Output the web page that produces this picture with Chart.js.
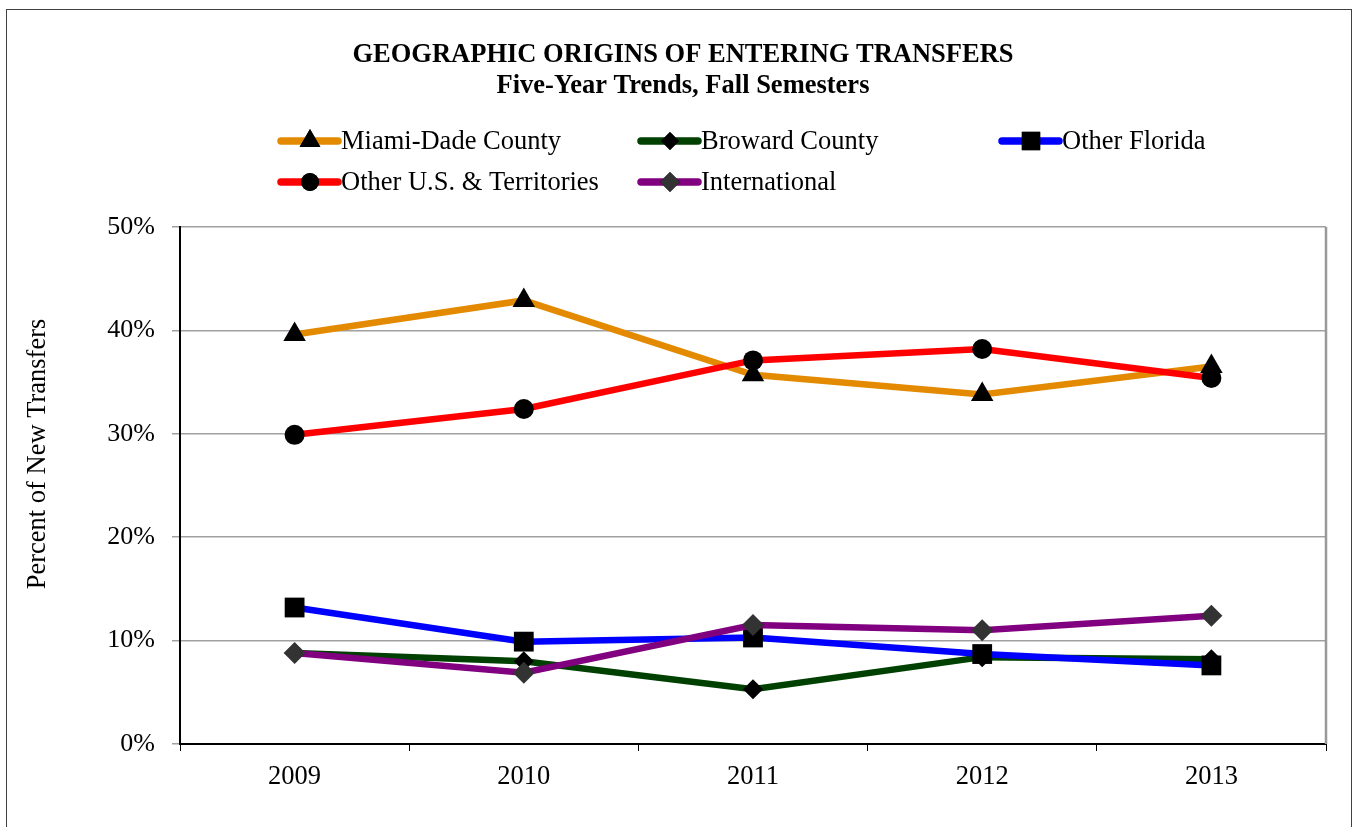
<!DOCTYPE html>
<html>
<head>
<meta charset="utf-8">
<script src="https://cdn.jsdelivr.net/npm/chart.js@4.4.1/dist/chart.umd.min.js"></script>
<style>
  html, body { margin: 0; padding: 0; background: #ffffff; }
  #wrap { width: 1355px; height: 827px; position: relative; }
</style>
</head>
<body>
<div id="wrap"><canvas id="chart" width="1355" height="827"></canvas></div>
<script>
const years = ["2009", "2010", "2011", "2012", "2013"];
const miamiDade = [39.6, 42.9, 35.7, 33.8, 36.5];
const broward = [8.8, 8.0, 5.3, 8.4, 8.2];
const otherFlorida = [13.2, 9.9, 10.3, 8.7, 7.6];
const otherUS = [29.9, 32.4, 37.1, 38.2, 35.4];
const international = [8.8, 6.9, 11.5, 11.0, 12.4];
const yTicks = [0, 10, 20, 30, 40, 50];

const serif = '"Liberation Serif", "Times New Roman", serif';

const series = [
  { label: "Miami-Dade County", data: miamiDade, color: "#E38A00", point: "triangle", radius: 13, pointColor: "#000000", order: 5 },
  { label: "Broward County", data: broward, color: "#004000", point: "rectRot", radius: 10, pointColor: "#000000", order: 4 },
  { label: "Other Florida", data: otherFlorida, color: "#0000FF", point: "rect", radius: 14, pointColor: "#000000", order: 3 },
  { label: "Other U.S. & Territories", data: otherUS, color: "#FF0000", point: "circle", radius: 10, pointColor: "#000000", order: 2 },
  { label: "International", data: international, color: "#800080", point: "rectRot", radius: 11, pointColor: "#333333", order: 1 },
];

// legend slots (column x, row y) like the original 3-column layout
const legendCols = [281, 641, 1002];
const legendRows = [141, 182];

const framePlugin = {
  id: "frameAndLegend",
  beforeDraw: (chart) => {
    const { ctx } = chart;
    ctx.save();
    ctx.fillStyle = "#ffffff";
    ctx.fillRect(0, 0, chart.width, chart.height);
    ctx.strokeStyle = "#404040";
    ctx.lineWidth = 1;
    ctx.strokeRect(6.5, 9.5, 1345, 830);

    // title
    ctx.fillStyle = "#000000";
    ctx.textAlign = "center";
    ctx.textBaseline = "middle";
    ctx.font = "bold 26.5px " + serif;
    ctx.fillText("GEOGRAPHIC ORIGINS OF ENTERING TRANSFERS", 683, 55);
    ctx.fillText("Five-Year Trends, Fall Semesters", 683, 86);

    // y axis title (sits a bit above the middle of the axis in the original)
    ctx.translate(38, 454);
    ctx.rotate(-Math.PI / 2);
    ctx.font = "26.5px " + serif;
    ctx.fillText("Percent of New Transfers", 0, 0);
    ctx.restore();
  },
  afterDatasetsDraw: (chart) => {
    const { ctx, chartArea } = chart;
    ctx.save();
    ctx.strokeStyle = "#999999";
    ctx.lineWidth = 2.5;
    ctx.beginPath();
    ctx.moveTo(chartArea.right, chartArea.top);
    ctx.lineTo(chartArea.right, chartArea.bottom);
    ctx.stroke();
    ctx.restore();
  },
  afterDraw: (chart) => {
    const { ctx } = chart;
    ctx.save();
    chart.data.datasets.forEach((ds, i) => {
      const x = legendCols[i % 3];
      const y = legendRows[Math.floor(i / 3)];
      ctx.strokeStyle = ds.borderColor;
      ctx.lineWidth = 7.5;
      ctx.lineCap = "round";
      ctx.beginPath();
      ctx.moveTo(x, y);
      ctx.lineTo(x + 57, y);
      ctx.stroke();
      Chart.helpers.drawPoint(ctx, {
        pointStyle: ds.pointStyle,
        radius: ds.pointRadius - 1,
        rotation: 0,
        borderWidth: 0,
      }, x + 29, y);
      ctx.fillStyle = ds.pointBackgroundColor;
      ctx.fill();
      ctx.fillStyle = "#000000";
      ctx.font = "26.5px " + serif;
      ctx.textAlign = "left";
      ctx.textBaseline = "middle";
      ctx.fillText(ds.label, x + 60, y + 1);
    });
    ctx.restore();
  },
};

new Chart(document.getElementById("chart").getContext("2d"), {
  type: "line",
  data: {
    labels: years,
    datasets: series.map((s) => ({
      label: s.label,
      data: s.data,
      borderColor: s.color,
      backgroundColor: s.color,
      borderWidth: 6.5,
      pointStyle: s.point,
      pointRadius: s.radius,
      pointHoverRadius: s.radius,
      pointBackgroundColor: s.pointColor,
      pointBorderColor: s.pointColor,
      pointBorderWidth: 0,
      tension: 0,
      fill: false,
      order: s.order,
    })),
  },
  options: {
    responsive: false,
    animation: false,
    layout: { padding: { top: 227, right: 29, bottom: 0, left: 0 } },
    scales: {
      x: {
        type: "category",
        offset: true,
        grid: {
          offset: true,
          drawOnChartArea: false,
          drawTicks: true,
          tickLength: 7,
          color: "#000000",
        },
        border: { color: "#000000", width: 2 },
        ticks: {
          color: "#000000",
          font: { family: serif, size: 26.5 },
          padding: 10,
          maxRotation: 0,
        },
        afterFit: (scale) => { scale.height = 83; },
      },
      y: {
        min: 0,
        max: 50,
        afterBuildTicks: (scale) => {
          scale.ticks = yTicks.map((v) => ({ value: v }));
        },
        grid: {
          color: "#A0A0A0",
          lineWidth: 1.5,
          tickLength: 8,
        },
        border: { color: "#000000", width: 2 },
        ticks: {
          color: "#000000",
          font: { family: serif, size: 26 },
          padding: 17,
          callback: (v) => v + "%",
        },
        afterFit: (scale) => { scale.width = 180; },
      },
    },
    plugins: {
      legend: { display: false },
      title: { display: false },
      tooltip: { enabled: false },
    },
  },
  plugins: [framePlugin],
});
</script>
</body>
</html>
